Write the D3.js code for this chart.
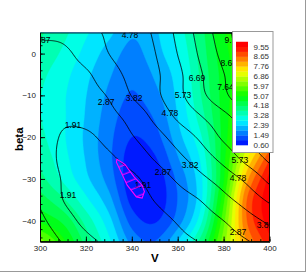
<!DOCTYPE html>
<html>
<head>
<meta charset="utf-8">
<script src="https://cdn.jsdelivr.net/npm/d3@7"></script>
<style>
  body { margin: 0; background: #fff; }
  text { font-family: "Liberation Sans", Arial, sans-serif; }
</style>
</head>
<body>
<svg id="chart" width="307" height="273"></svg>
<script>
// grid axes (columns = V, rows = beta from top to bottom)
const vValues = [300, 310, 320, 330, 340, 350, 360, 370, 380, 390, 400];
const betaValues = [5, 0, -5, -10, -15, -20, -25, -30, -35, -40, -45];

// flooded field
const fillGrid = [
  [3.8, 3.4, 2.9, 2.5, 2.0, 2.3, 3.0, 4.0, 5.0, 5.6, 6.1],
  [3.6, 3.2, 2.7, 2.2, 1.8, 2.2, 2.8, 3.9, 4.9, 5.5, 6.1],
  [3.4, 3.0, 2.5, 2.0, 1.6, 2.0, 2.6, 3.8, 4.8, 5.6, 6.3],
  [3.3, 2.9, 2.4, 1.85, 1.45, 1.8, 2.5, 3.7, 4.8, 5.7, 6.6],
  [3.3, 2.9, 2.35, 1.72, 1.25, 1.55, 2.4, 3.5, 4.8, 6.0, 7.1],
  [3.4, 2.9, 2.3, 1.62, 1.05, 1.3, 2.2, 3.2, 4.8, 6.4, 7.9],
  [3.6, 3.0, 2.35, 1.6, 0.85, 1.0, 1.9, 2.9, 4.9, 7.2, 9.0],
  [3.9, 3.2, 2.5, 1.75, 0.75, 0.75, 1.6, 2.7, 5.0, 8.0, 9.7],
  [4.4, 3.8, 2.95, 2.1, 0.9, 0.75, 1.5, 2.7, 5.4, 8.6, 9.9],
  [5.0, 4.5, 3.55, 2.55, 1.3, 1.0, 1.7, 3.1, 5.8, 8.6, 9.8],
  [6.2, 5.2, 4.0, 2.95, 1.8, 1.5, 2.4, 3.9, 6.2, 8.2, 9.4]
];

// line field (black contour lines)
const lineGrid = [
  [2.95, 3.1, 3.55, 3.95, 4.4, 4.9, 5.95, 7.05, 8.2, 9.4, 10.6],
  [2.7, 2.7, 3.2, 3.82, 4.3, 4.75, 5.75, 6.85, 7.95, 9.2, 10.4],
  [2.5, 2.55, 2.75, 3.4, 4.1, 4.6, 5.5, 6.6, 7.6, 8.8, 10.0],
  [2.4, 2.35, 2.55, 2.95, 3.85, 4.55, 5.45, 6.45, 7.4, 8.6, 9.8],
  [2.3, 2.05, 2.2, 2.6, 3.2, 4.05, 4.95, 5.7, 6.45, 7.3, 8.2],
  [2.3, 1.85, 1.75, 2.2, 2.8, 3.45, 4.2, 4.95, 5.9, 6.7, 7.5],
  [2.4, 1.75, 1.45, 1.75, 2.3, 2.95, 3.6, 4.3, 5.1, 6.05, 6.9],
  [2.55, 1.85, 1.45, 1.35, 1.7, 2.35, 3.0, 3.6, 4.25, 5.0, 6.0],
  [2.75, 1.91, 1.5, 1.25, 1.4, 1.95, 2.45, 2.9, 3.55, 4.2, 4.95],
  [3.1, 2.3, 1.7, 1.35, 1.25, 1.6, 1.98, 2.4, 2.87, 3.45, 4.0],
  [3.6, 2.8, 2.15, 1.75, 1.5, 1.5, 1.7, 1.95, 2.4, 2.8, 3.3]
];

const fillLevels = [0.60, 1.05, 1.49, 1.94, 2.39, 2.84, 3.28, 3.73, 4.18, 4.62, 5.07,
                    5.52, 5.97, 6.41, 6.86, 7.31, 7.76, 8.20, 8.65, 9.10, 9.55];
const legendLabels = ["0.60", "1.49", "2.39", "3.28", "4.18", "5.07", "5.97", "6.86", "7.76", "8.65", "9.55"];
const lineLevels = [0.955, 1.91, 2.87, 3.82, 4.78, 5.73, 6.69, 7.64, 8.60, 9.55];

// contour labels: [V, beta, text]
const lineLabels = [
  [301.0, 3.2, "2.87"], [339.2, 4.4, "4.78"], [328.8, -11.6, "2.87"], [341.0, -10.6, "3.82"],
  [314.4, -17.1, "1.91"], [368.4, -5.9, "6.69"], [362.3, -9.9, "5.73"], [380.8, -8.0, "7.64"],
  [382.2, -2.3, "8.60"], [384.0, 3.2, "9.55"], [356.6, -14.2, "4.78"], [365.4, -26.7, "3.82"],
  [353.6, -28.3, "2.87"], [312.2, -33.9, "1.91"], [344.9, -31.5, "1.91"], [387.1, -25.5, "5.73"],
  [386.3, -29.8, "4.78"], [386.3, -42.7, "2.87"], [398.0, -41.0, "3.82"]
];

// hatched region
const regionV = [333.5, 337, 341, 344.5, 345.5, 344.5, 342, 338, 335, 333.3];
const regionBeta = [-25.3, -26.5, -29.5, -31.5, -33, -34.6, -34.3, -31.5, -28, -26];

const xTicks = [300, 320, 340, 360, 380, 400];
const yTicks = [0, -10, -20, -30, -40];

const svg = d3.select("#chart");
const x = d3.scaleLinear().domain([300, 400]).range([40, 269.5]);
const y = d3.scaleLinear().domain([-45, 5]).range([241.6, 32.7]);

const color = d3.scaleLinear()
  .domain([0.6, 2.8375, 5.075, 7.3125, 9.55])
  .range(["#0000ff", "#00ffff", "#00ff00", "#ffff00", "#ff0000"])
  .clamp(true);

// bicubic sampling of a grid
function cubic(p0, p1, p2, p3, t) {
  return p1 + 0.5 * t * (p2 - p0 + t * (2 * p0 - 5 * p1 + 4 * p2 - p3 + t * (3 * (p1 - p2) + p3 - p0)));
}
function sample(grid, v, b) {
  const nI = vValues.length, nJ = betaValues.length;
  const gi = (v - vValues[0]) / (vValues[1] - vValues[0]);
  const gj = (betaValues[0] - b) / (betaValues[0] - betaValues[1]);
  const i = Math.max(0, Math.min(Math.floor(gi), nI - 2));
  const j = Math.max(0, Math.min(Math.floor(gj), nJ - 2));
  const at = (jj, ii) => {
    if (ii < 0) return 2 * at(jj, 0) - at(jj, 1);
    if (ii > nI - 1) return 2 * at(jj, nI - 1) - at(jj, nI - 2);
    if (jj < 0) return 2 * at(0, ii) - at(1, ii);
    if (jj > nJ - 1) return 2 * at(nJ - 1, ii) - at(nJ - 2, ii);
    return grid[jj][ii];
  };
  const rows = [-1, 0, 1, 2].map(d => cubic(at(j + d, i - 1), at(j + d, i), at(j + d, i + 1), at(j + d, i + 2), gi - i));
  return cubic(rows[0], rows[1], rows[2], rows[3], gj - j);
}

const nx = 230, ny = 209;
function raster(grid) {
  const out = new Float64Array(nx * ny);
  for (let j = 0; j < ny; j++) {
    for (let i = 0; i < nx; i++) {
      const v = 300 + (i + 0.5) / nx * 100;
      const b = 5 - (j + 0.5) / ny * 50;
      out[j * nx + i] = sample(grid, v, b);
    }
  }
  return out;
}

const gridPath = d3.geoPath(d3.geoTransform({
  point: function (px, py) {
    this.stream.point(x(300 + px / nx * 100), y(5 - py / ny * 50));
  }
}));

svg.append("defs").append("clipPath").attr("id", "plotClip")
  .append("rect")
  .attr("x", x(300)).attr("y", y(5))
  .attr("width", x(400) - x(300)).attr("height", y(-45) - y(5));

const hatch = svg.select("defs").append("pattern")
  .attr("id", "hatch")
  .attr("patternUnits", "userSpaceOnUse")
  .attr("width", 20).attr("height", 8.5)
  .attr("patternTransform", "rotate(-22)");
hatch.append("line")
  .attr("x1", 0).attr("x2", 20).attr("y1", 4).attr("y2", 4)
  .attr("stroke", "#ff00ff").attr("stroke-width", 1.1);

const plot = svg.append("g").attr("clip-path", "url(#plotClip)");

// flooded contours
plot.append("rect")
  .attr("x", x(300)).attr("y", y(5))
  .attr("width", x(400) - x(300)).attr("height", y(-45) - y(5))
  .attr("fill", color(0.5));

const bandColor = k => k < fillLevels.length - 1 ? color((fillLevels[k] + fillLevels[k + 1]) / 2) : "#ff0000";
const fillValues = raster(fillGrid);
const bands = d3.contours().size([nx, ny]).thresholds(fillLevels)(fillValues);
plot.selectAll("path.band")
  .data(bands)
  .join("path")
  .attr("class", "band")
  .attr("d", gridPath)
  .attr("fill", (d, k) => bandColor(k))
  .attr("stroke", (d, k) => bandColor(k))
  .attr("stroke-width", 0.4);

// line contours
const lineValues = raster(lineGrid);
const isolines = d3.contours().size([nx, ny]).thresholds(lineLevels)(lineValues);
plot.selectAll("path.iso")
  .data(isolines)
  .join("path")
  .attr("class", "iso")
  .attr("d", gridPath)
  .attr("fill", "none")
  .attr("stroke", "#000")
  .attr("stroke-width", 0.85);

plot.selectAll("text.lab")
  .data(lineLabels)
  .join("text")
  .attr("class", "lab")
  .attr("x", d => x(d[0]))
  .attr("y", d => y(d[1]))
  .attr("dy", "0.35em")
  .attr("text-anchor", "middle")
  .attr("font-size", 8.5)
  .attr("fill", "#000")
  .text(d => d[2]);

// hatched region
const regionPts = regionV.map((v, k) => [x(v), y(regionBeta[k])]);
plot.append("path")
  .attr("d", "M" + regionPts.join("L") + "Z")
  .attr("fill", "url(#hatch)")
  .attr("stroke", "#ff00ff")
  .attr("stroke-width", 1.1);

// axes
svg.append("g").attr("transform", `translate(0,${y(-45)})`)
  .call(d3.axisBottom(x).tickValues(xTicks).tickSize(-5).tickSizeOuter(0).tickPadding(4));
svg.append("g").attr("transform", `translate(0,${y(-45)})`)
  .call(d3.axisBottom(x).tickValues(d3.range(300, 401, 4)).tickSize(-2.5).tickSizeOuter(0).tickFormat(""));
svg.append("g").attr("transform", `translate(${x(300)},0)`)
  .call(d3.axisLeft(y).tickValues(yTicks).tickSize(-5).tickSizeOuter(0).tickPadding(4));
svg.append("g").attr("transform", `translate(${x(300)},0)`)
  .call(d3.axisLeft(y).tickValues(d3.range(-44, 5, 2)).tickSize(-2.5).tickSizeOuter(0).tickFormat(""));
svg.selectAll(".tick text").attr("font-size", 8).attr("fill", "#222")
  .attr("font-family", "Liberation Sans, Arial, sans-serif");
svg.selectAll(".domain, .tick line").attr("stroke", "#000").attr("stroke-width", 0.9);

svg.append("text")
  .attr("x", x(350)).attr("y", 261.5)
  .attr("text-anchor", "middle")
  .attr("font-size", 11.5).attr("font-weight", "bold")
  .text("V");
svg.append("text")
  .attr("transform", `translate(18.5,${y(-20.5)}) rotate(-90)`)
  .attr("text-anchor", "middle")
  .attr("dy", "0.35em")
  .attr("font-size", 11.5).attr("font-weight", "bold")
  .text("beta");

// legend
const leg = svg.append("g");
leg.append("rect")
  .attr("x", 232.5).attr("y", 31.5).attr("width", 40.5).attr("height", 121)
  .attr("fill", "#fff").attr("stroke", "#999").attr("stroke-width", 1);
const yLeg = d3.scaleLinear().domain([0.6, 9.55]).range([145, 46.7]);
const legStops = fillLevels.concat([10.0]);
leg.selectAll("rect.cb")
  .data(d3.range(legStops.length - 1))
  .join("rect")
  .attr("class", "cb")
  .attr("x", 236).attr("width", 12)
  .attr("y", k => yLeg(legStops[k + 1]))
  .attr("height", k => yLeg(legStops[k]) - yLeg(legStops[k + 1]) + 0.3)
  .attr("fill", k => bandColor(k));
leg.selectAll("text.ll")
  .data(legendLabels)
  .join("text")
  .attr("class", "ll")
  .attr("x", 253.5)
  .attr("y", d => yLeg(+d))
  .attr("dy", "0.35em")
  .attr("font-size", 8)
  .attr("fill", "#333")
  .text(d => d);

// outer frame (right and bottom)
svg.append("line").attr("x1", 305.5).attr("x2", 305.5).attr("y1", 0).attr("y2", 272)
  .attr("stroke", "#999");
svg.append("line").attr("x1", 0).attr("x2", 306).attr("y1", 271.5).attr("y2", 271.5)
  .attr("stroke", "#999");
</script>
</body>
</html>
